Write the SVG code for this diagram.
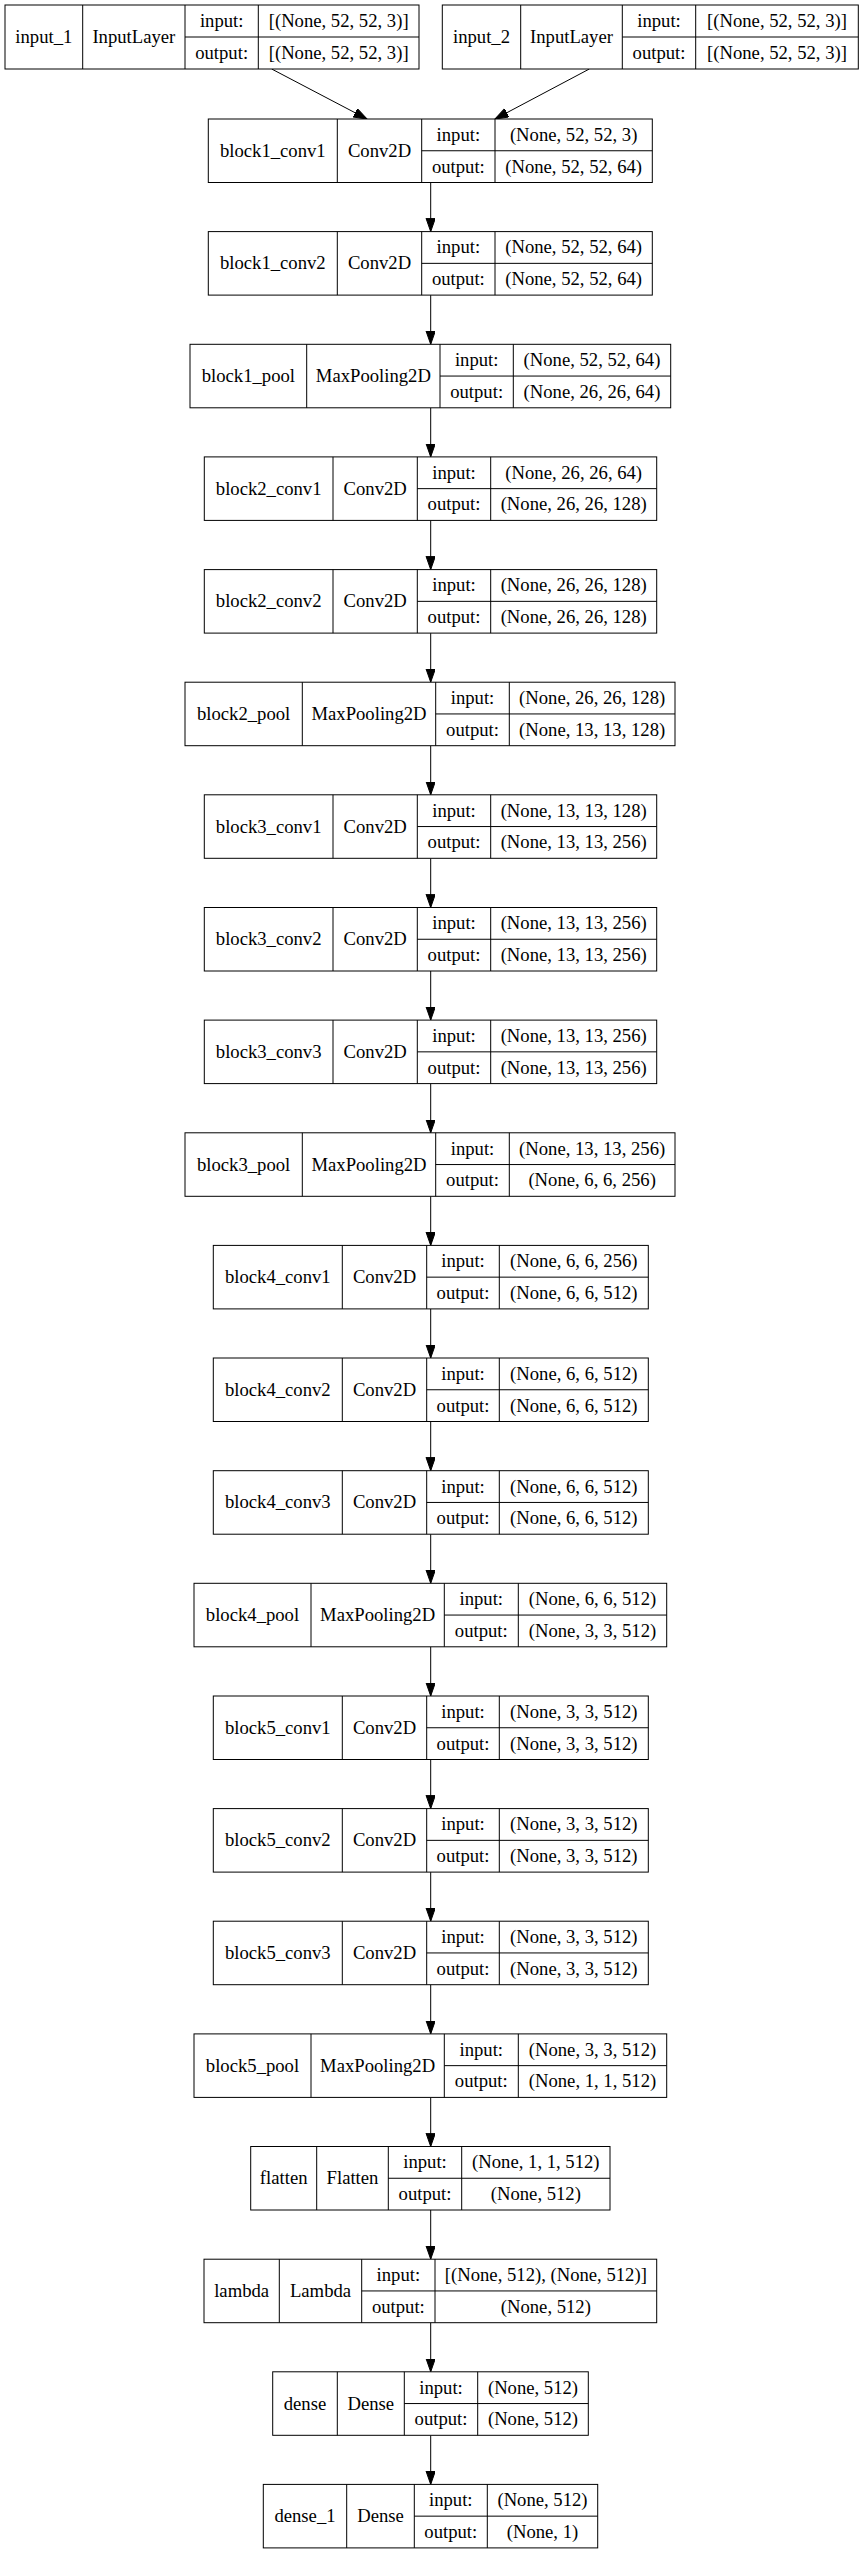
<svg xmlns="http://www.w3.org/2000/svg" width="861" height="2554" viewBox="0 0 861 2554">
<style>
.node rect{fill:#fff;stroke:#000;stroke-width:1}
.node path{fill:none;stroke:#000;stroke-width:1}
.node text{font-family:"Liberation Serif","Times New Roman",serif;font-size:18.67px;text-anchor:middle;fill:#000}
.edges path{fill:none;stroke:#000;stroke-width:1;marker-end:url(#arrow)}
</style>
<defs>
<marker id="arrow" markerUnits="userSpaceOnUse" markerWidth="14" markerHeight="10" refX="13.3" refY="4.67" orient="auto">
<path d="M0,0 L13.3,4.67 L0,9.34 Z" fill="#000" stroke="#000" stroke-width="1"/>
</marker>
</defs>
<rect width="861" height="2554" fill="#fff"/>
<g class="edges" id="connectors">
<path d="M271.7,69 L367,119"/>
<path d="M589.3,69 L495,119"/>
<path d="M430.7,182.5V231.6"/>
<path d="M430.7,295.1V344.3"/>
<path d="M430.7,407.8V456.9"/>
<path d="M430.7,520.4V569.6"/>
<path d="M430.7,633.1V682.2"/>
<path d="M430.7,745.7V794.8"/>
<path d="M430.7,858.3V907.5"/>
<path d="M430.7,971V1020.1"/>
<path d="M430.7,1083.6V1132.8"/>
<path d="M430.7,1196.3V1245.4"/>
<path d="M430.7,1308.9V1358"/>
<path d="M430.7,1421.5V1470.7"/>
<path d="M430.7,1534.2V1583.3"/>
<path d="M430.7,1646.8V1696"/>
<path d="M430.7,1759.5V1808.6"/>
<path d="M430.7,1872.1V1921.2"/>
<path d="M430.7,1984.7V2033.9"/>
<path d="M430.7,2097.4V2146.5"/>
<path d="M430.7,2210V2259.2"/>
<path d="M430.7,2322.7V2371.8"/>
<path d="M430.7,2435.3V2484.4"/>
</g>
<g class="node" id="input_1" transform="translate(0,5)">
<rect x="5" y="0" width="414" height="64"/>
<path d="M82.7,0V64M185,0V64M258.3,0V64M185,32H419"/>
<text x="43.85" y="38">input_1</text><text x="133.85" y="38">InputLayer</text>
<text x="221.65" y="22">input:</text><text x="338.65" y="22">[(None, 52, 52, 3)]</text>
<text x="221.65" y="54">output:</text><text x="338.65" y="54">[(None, 52, 52, 3)]</text>
</g>
<g class="node" id="input_2" transform="translate(0,5)">
<rect x="442.3" y="0" width="416" height="64"/>
<path d="M520.7,0V64M622.3,0V64M695.7,0V64M622.3,32H858.3"/>
<text x="481.5" y="38">input_2</text><text x="571.5" y="38">InputLayer</text>
<text x="659" y="22">input:</text><text x="777" y="22">[(None, 52, 52, 3)]</text>
<text x="659" y="54">output:</text><text x="777" y="54">[(None, 52, 52, 3)]</text>
</g>
<g class="node" id="block1_conv1" transform="translate(0,119)">
<rect x="208.3" y="0" width="444" height="63.5"/>
<path d="M337.3,0V63.5M421.7,0V63.5M495,0V63.5M421.7,31.75H652.3"/>
<text x="272.8" y="37.8">block1_conv1</text><text x="379.5" y="37.8">Conv2D</text>
<text x="458.35" y="21.9">input:</text><text x="573.65" y="21.9">(None, 52, 52, 3)</text>
<text x="458.35" y="53.6">output:</text><text x="573.65" y="53.6">(None, 52, 52, 64)</text>
</g>
<g class="node" id="block1_conv2" transform="translate(0,231.6)">
<rect x="208.3" y="0" width="444" height="63.5"/>
<path d="M337.3,0V63.5M421.7,0V63.5M495,0V63.5M421.7,31.75H652.3"/>
<text x="272.8" y="37.8">block1_conv2</text><text x="379.5" y="37.8">Conv2D</text>
<text x="458.35" y="21.9">input:</text><text x="573.65" y="21.9">(None, 52, 52, 64)</text>
<text x="458.35" y="53.6">output:</text><text x="573.65" y="53.6">(None, 52, 52, 64)</text>
</g>
<g class="node" id="block1_pool" transform="translate(0,344.3)">
<rect x="190" y="0" width="480.7" height="63.5"/>
<path d="M306.7,0V63.5M440,0V63.5M513.3,0V63.5M440,31.75H670.7"/>
<text x="248.35" y="37.8">block1_pool</text><text x="373.35" y="37.8">MaxPooling2D</text>
<text x="476.65" y="21.9">input:</text><text x="592" y="21.9">(None, 52, 52, 64)</text>
<text x="476.65" y="53.6">output:</text><text x="592" y="53.6">(None, 26, 26, 64)</text>
</g>
<g class="node" id="block2_conv1" transform="translate(0,456.9)">
<rect x="204.3" y="0" width="452.4" height="63.5"/>
<path d="M333,0V63.5M417.3,0V63.5M490.7,0V63.5M417.3,31.75H656.7"/>
<text x="268.65" y="37.8">block2_conv1</text><text x="375.15" y="37.8">Conv2D</text>
<text x="454" y="21.9">input:</text><text x="573.7" y="21.9">(None, 26, 26, 64)</text>
<text x="454" y="53.6">output:</text><text x="573.7" y="53.6">(None, 26, 26, 128)</text>
</g>
<g class="node" id="block2_conv2" transform="translate(0,569.6)">
<rect x="204.3" y="0" width="452.4" height="63.5"/>
<path d="M333,0V63.5M417.3,0V63.5M490.7,0V63.5M417.3,31.75H656.7"/>
<text x="268.65" y="37.8">block2_conv2</text><text x="375.15" y="37.8">Conv2D</text>
<text x="454" y="21.9">input:</text><text x="573.7" y="21.9">(None, 26, 26, 128)</text>
<text x="454" y="53.6">output:</text><text x="573.7" y="53.6">(None, 26, 26, 128)</text>
</g>
<g class="node" id="block2_pool" transform="translate(0,682.2)">
<rect x="185" y="0" width="490" height="63.5"/>
<path d="M302.3,0V63.5M435.7,0V63.5M509.3,0V63.5M435.7,31.75H675"/>
<text x="243.65" y="37.8">block2_pool</text><text x="369" y="37.8">MaxPooling2D</text>
<text x="472.5" y="21.9">input:</text><text x="592.15" y="21.9">(None, 26, 26, 128)</text>
<text x="472.5" y="53.6">output:</text><text x="592.15" y="53.6">(None, 13, 13, 128)</text>
</g>
<g class="node" id="block3_conv1" transform="translate(0,794.8)">
<rect x="204.3" y="0" width="452.4" height="63.5"/>
<path d="M333,0V63.5M417.3,0V63.5M490.7,0V63.5M417.3,31.75H656.7"/>
<text x="268.65" y="37.8">block3_conv1</text><text x="375.15" y="37.8">Conv2D</text>
<text x="454" y="21.9">input:</text><text x="573.7" y="21.9">(None, 13, 13, 128)</text>
<text x="454" y="53.6">output:</text><text x="573.7" y="53.6">(None, 13, 13, 256)</text>
</g>
<g class="node" id="block3_conv2" transform="translate(0,907.5)">
<rect x="204.3" y="0" width="452.4" height="63.5"/>
<path d="M333,0V63.5M417.3,0V63.5M490.7,0V63.5M417.3,31.75H656.7"/>
<text x="268.65" y="37.8">block3_conv2</text><text x="375.15" y="37.8">Conv2D</text>
<text x="454" y="21.9">input:</text><text x="573.7" y="21.9">(None, 13, 13, 256)</text>
<text x="454" y="53.6">output:</text><text x="573.7" y="53.6">(None, 13, 13, 256)</text>
</g>
<g class="node" id="block3_conv3" transform="translate(0,1020.1)">
<rect x="204.3" y="0" width="452.4" height="63.5"/>
<path d="M333,0V63.5M417.3,0V63.5M490.7,0V63.5M417.3,31.75H656.7"/>
<text x="268.65" y="37.8">block3_conv3</text><text x="375.15" y="37.8">Conv2D</text>
<text x="454" y="21.9">input:</text><text x="573.7" y="21.9">(None, 13, 13, 256)</text>
<text x="454" y="53.6">output:</text><text x="573.7" y="53.6">(None, 13, 13, 256)</text>
</g>
<g class="node" id="block3_pool" transform="translate(0,1132.8)">
<rect x="185" y="0" width="490" height="63.5"/>
<path d="M302.3,0V63.5M435.7,0V63.5M509.3,0V63.5M435.7,31.75H675"/>
<text x="243.65" y="37.8">block3_pool</text><text x="369" y="37.8">MaxPooling2D</text>
<text x="472.5" y="21.9">input:</text><text x="592.15" y="21.9">(None, 13, 13, 256)</text>
<text x="472.5" y="53.6">output:</text><text x="592.15" y="53.6">(None, 6, 6, 256)</text>
</g>
<g class="node" id="block4_conv1" transform="translate(0,1245.4)">
<rect x="213.3" y="0" width="435" height="63.5"/>
<path d="M342.3,0V63.5M426.7,0V63.5M499.3,0V63.5M426.7,31.75H648.3"/>
<text x="277.8" y="37.8">block4_conv1</text><text x="384.5" y="37.8">Conv2D</text>
<text x="463" y="21.9">input:</text><text x="573.8" y="21.9">(None, 6, 6, 256)</text>
<text x="463" y="53.6">output:</text><text x="573.8" y="53.6">(None, 6, 6, 512)</text>
</g>
<g class="node" id="block4_conv2" transform="translate(0,1358)">
<rect x="213.3" y="0" width="435" height="63.5"/>
<path d="M342.3,0V63.5M426.7,0V63.5M499.3,0V63.5M426.7,31.75H648.3"/>
<text x="277.8" y="37.8">block4_conv2</text><text x="384.5" y="37.8">Conv2D</text>
<text x="463" y="21.9">input:</text><text x="573.8" y="21.9">(None, 6, 6, 512)</text>
<text x="463" y="53.6">output:</text><text x="573.8" y="53.6">(None, 6, 6, 512)</text>
</g>
<g class="node" id="block4_conv3" transform="translate(0,1470.7)">
<rect x="213.3" y="0" width="435" height="63.5"/>
<path d="M342.3,0V63.5M426.7,0V63.5M499.3,0V63.5M426.7,31.75H648.3"/>
<text x="277.8" y="37.8">block4_conv3</text><text x="384.5" y="37.8">Conv2D</text>
<text x="463" y="21.9">input:</text><text x="573.8" y="21.9">(None, 6, 6, 512)</text>
<text x="463" y="53.6">output:</text><text x="573.8" y="53.6">(None, 6, 6, 512)</text>
</g>
<g class="node" id="block4_pool" transform="translate(0,1583.3)">
<rect x="194" y="0" width="472.7" height="63.5"/>
<path d="M311,0V63.5M444.3,0V63.5M518.3,0V63.5M444.3,31.75H666.7"/>
<text x="252.5" y="37.8">block4_pool</text><text x="377.65" y="37.8">MaxPooling2D</text>
<text x="481.3" y="21.9">input:</text><text x="592.5" y="21.9">(None, 6, 6, 512)</text>
<text x="481.3" y="53.6">output:</text><text x="592.5" y="53.6">(None, 3, 3, 512)</text>
</g>
<g class="node" id="block5_conv1" transform="translate(0,1696)">
<rect x="213.3" y="0" width="435" height="63.5"/>
<path d="M342.3,0V63.5M426.7,0V63.5M499.3,0V63.5M426.7,31.75H648.3"/>
<text x="277.8" y="37.8">block5_conv1</text><text x="384.5" y="37.8">Conv2D</text>
<text x="463" y="21.9">input:</text><text x="573.8" y="21.9">(None, 3, 3, 512)</text>
<text x="463" y="53.6">output:</text><text x="573.8" y="53.6">(None, 3, 3, 512)</text>
</g>
<g class="node" id="block5_conv2" transform="translate(0,1808.6)">
<rect x="213.3" y="0" width="435" height="63.5"/>
<path d="M342.3,0V63.5M426.7,0V63.5M499.3,0V63.5M426.7,31.75H648.3"/>
<text x="277.8" y="37.8">block5_conv2</text><text x="384.5" y="37.8">Conv2D</text>
<text x="463" y="21.9">input:</text><text x="573.8" y="21.9">(None, 3, 3, 512)</text>
<text x="463" y="53.6">output:</text><text x="573.8" y="53.6">(None, 3, 3, 512)</text>
</g>
<g class="node" id="block5_conv3" transform="translate(0,1921.2)">
<rect x="213.3" y="0" width="435" height="63.5"/>
<path d="M342.3,0V63.5M426.7,0V63.5M499.3,0V63.5M426.7,31.75H648.3"/>
<text x="277.8" y="37.8">block5_conv3</text><text x="384.5" y="37.8">Conv2D</text>
<text x="463" y="21.9">input:</text><text x="573.8" y="21.9">(None, 3, 3, 512)</text>
<text x="463" y="53.6">output:</text><text x="573.8" y="53.6">(None, 3, 3, 512)</text>
</g>
<g class="node" id="block5_pool" transform="translate(0,2033.9)">
<rect x="194" y="0" width="472.7" height="63.5"/>
<path d="M311,0V63.5M444.3,0V63.5M518.3,0V63.5M444.3,31.75H666.7"/>
<text x="252.5" y="37.8">block5_pool</text><text x="377.65" y="37.8">MaxPooling2D</text>
<text x="481.3" y="21.9">input:</text><text x="592.5" y="21.9">(None, 3, 3, 512)</text>
<text x="481.3" y="53.6">output:</text><text x="592.5" y="53.6">(None, 1, 1, 512)</text>
</g>
<g class="node" id="flatten" transform="translate(0,2146.5)">
<rect x="250.7" y="0" width="359.3" height="63.5"/>
<path d="M316.7,0V63.5M388.3,0V63.5M461.7,0V63.5M388.3,31.75H610"/>
<text x="283.7" y="37.8">flatten</text><text x="352.5" y="37.8">Flatten</text>
<text x="425" y="21.9">input:</text><text x="535.85" y="21.9">(None, 1, 1, 512)</text>
<text x="425" y="53.6">output:</text><text x="535.85" y="53.6">(None, 512)</text>
</g>
<g class="node" id="lambda" transform="translate(0,2259.2)">
<rect x="204" y="0" width="452.7" height="63.5"/>
<path d="M279.3,0V63.5M361.7,0V63.5M435,0V63.5M361.7,31.75H656.7"/>
<text x="241.65" y="37.8">lambda</text><text x="320.5" y="37.8">Lambda</text>
<text x="398.35" y="21.9">input:</text><text x="545.85" y="21.9">[(None, 512), (None, 512)]</text>
<text x="398.35" y="53.6">output:</text><text x="545.85" y="53.6">(None, 512)</text>
</g>
<g class="node" id="dense" transform="translate(0,2371.8)">
<rect x="272.7" y="0" width="315.6" height="63.5"/>
<path d="M337.3,0V63.5M404.3,0V63.5M477.7,0V63.5M404.3,31.75H588.3"/>
<text x="305" y="37.8">dense</text><text x="370.8" y="37.8">Dense</text>
<text x="441" y="21.9">input:</text><text x="533" y="21.9">(None, 512)</text>
<text x="441" y="53.6">output:</text><text x="533" y="53.6">(None, 512)</text>
</g>
<g class="node" id="dense_1" transform="translate(0,2484.4)">
<rect x="263.3" y="0" width="334.4" height="63.5"/>
<path d="M346.7,0V63.5M414.3,0V63.5M487.3,0V63.5M414.3,31.75H597.7"/>
<text x="305" y="37.8">dense_1</text><text x="380.5" y="37.8">Dense</text>
<text x="450.8" y="21.9">input:</text><text x="542.5" y="21.9">(None, 512)</text>
<text x="450.8" y="53.6">output:</text><text x="542.5" y="53.6">(None, 1)</text>
</g>
</svg>
